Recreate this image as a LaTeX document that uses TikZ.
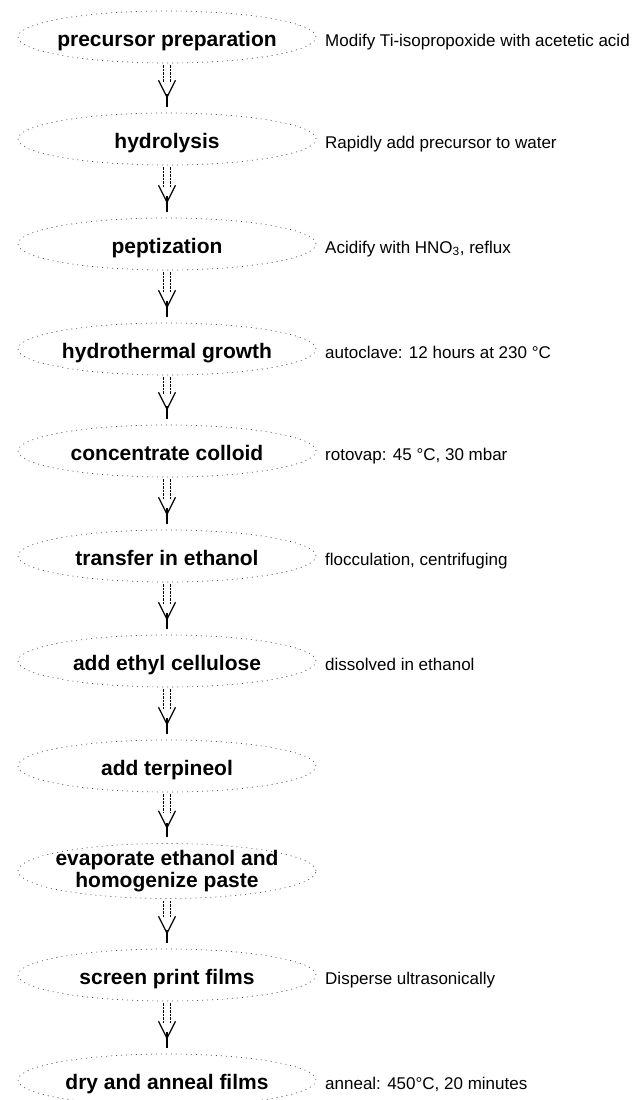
\documentclass[tikz,border=0pt]{standalone}
\usepackage{fontspec}
\setmainfont{Liberation Sans}
\usepackage{tikz}
\usetikzlibrary{arrows.meta,shapes.geometric}
\definecolor{dotgray}{HTML}{555555}

\begin{document}
\begin{tikzpicture}[x=1pt, y=-1pt,
    stepnode/.style={ellipse, draw=dotgray, line width=0.7pt, dash pattern=on 1pt off 4pt,
      minimum width=298pt, minimum height=52pt, inner xsep=-45pt, inner ysep=-4pt, align=center,
      font=\fontsize{21}{22}\selectfont\bfseries, text height=23pt, text depth=4.5pt},
    notenode/.style={anchor=base west, inner sep=0pt, font=\fontsize{17}{19}\selectfont},
    flow/.style={draw=none,
      preaction={draw, double, double distance=6pt, line width=0.7pt, dash pattern=on 2.5pt off 1pt,
        shorten <=2pt, shorten >=31pt},
      postaction={draw, line width=1.2pt, -{Straight Barb[length=17pt, width=17pt]},
        shorten <=33pt, shorten >=14pt},
      postaction={draw, line width=1.1pt, shorten <=31pt, shorten >=6pt}}]
        \useasboundingbox (0,0) rectangle (641,1100);

        % Schritte
        \node[stepnode] (prep) at (167,37) {precursor preparation};
        \node[stepnode] (hydro) at (167,139) {hydrolysis};
        \node[stepnode] (pept) at (167,244) {peptization};
        \node[stepnode] (growth) at (167,349) {hydrothermal growth};
        \node[stepnode] (conc) at (167,451) {concentrate colloid};
        \node[stepnode] (transfer) at (167,556) {transfer in ethanol};
        \node[stepnode] (ethcell) at (167,661) {add ethyl cellulose};
        \node[stepnode] (terp) at (167,766) {add terpineol};
        \node[stepnode, text height=37pt, minimum height=55pt] (evap) at (167,871) {evaporate ethanol and\\homogenize paste};
        \node[stepnode] (print) at (167,975) {screen print films};
        \node[stepnode] (anneal) at (167,1080) {dry and anneal films};

        % Anmerkungen
        \coordinate (notex) at (325,0);
        \node[notenode] (n1) at (prep.base -| notex) {Modify Ti-isopropoxide with acetetic acid};
        \node[notenode] (n2) at (hydro.base -| notex) {Rapidly add precursor to water};
        \node[notenode] (n3) at (pept.base -| notex) {Acidify with HNO\textsubscript{3}, reflux};
        \node[notenode] (n4) at (growth.base -| notex) {autoclave: 12 hours at 230 °C};
        \node[notenode] (n5) at (conc.base -| notex) {rotovap: 45 °C, 30 mbar};
        \node[notenode] (n6) at (transfer.base -| notex) {flocculation, centrifuging};
        \node[notenode] (n7) at (ethcell.base -| notex) {dissolved in ethanol};
        \node[notenode] (n8) at (print.base -| notex) {Disperse ultrasonically};
        \node[notenode] (n9) at (anneal.base -| notex) {anneal: 450°C, 20 minutes};

        % Pfeile
        \draw[flow] (prep) -- (hydro);
        \draw[flow] (hydro) -- (pept);
        \draw[flow] (pept) -- (growth);
        \draw[flow] (growth) -- (conc);
        \draw[flow] (conc) -- (transfer);
        \draw[flow] (transfer) -- (ethcell);
        \draw[flow] (ethcell) -- (terp);
        \draw[flow] (terp) -- (evap);
        \draw[flow] (evap) -- (print);
        \draw[flow] (print) -- (anneal);
    \end{tikzpicture}
\end{document}
